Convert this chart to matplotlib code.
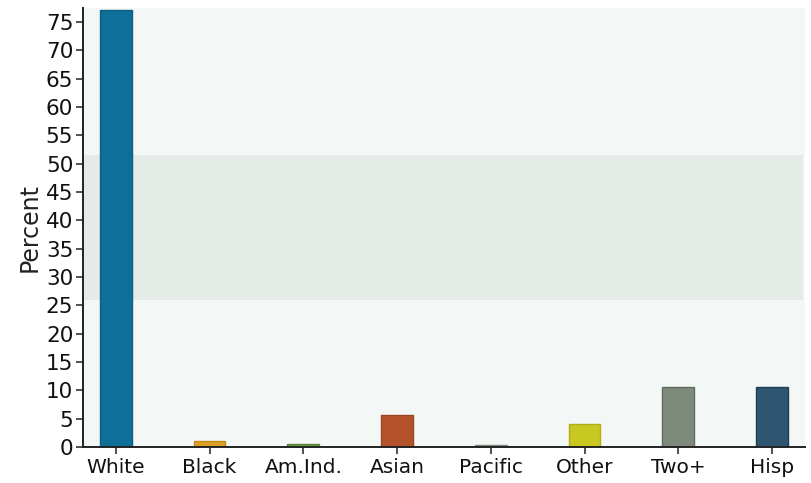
import numpy as np
import matplotlib.pyplot as plt

# race / ethnicity shares, percent
groups = ["White", "Black", "Am.Ind.", "Asian", "Pacific", "Other", "Two+", "Hisp"]
percent = [77.2, 1.0, 0.6, 5.7, 0.4, 4.0, 10.6, 10.6]
bar_colors = ["#0e6f98", "#dca024", "#6f9a44", "#b4532b",
              "#8fa08a", "#c9c820", "#7e8b7c", "#2e5572"]
edge_colors = ["#0b5f84", "#c08a1c", "#5a823a", "#9a4422",
               "#7a8a76", "#b0ae18", "#5f6b5e", "#1f3d55"]
band = (26.0, 51.6)  # shaded reference range

fig = plt.figure(figsize=(8.12, 4.83), dpi=100)
ax = fig.add_axes([0.1022, 0.0745, 0.889, 0.909])
ax.set_facecolor("#f3f8f6")

x = np.arange(len(groups))
ax.axhspan(band[0], band[1], xmin=0, xmax=0.997, color="#e5ebe7", zorder=0, lw=0)
ax.bar(x, percent, width=0.34, color=bar_colors, edgecolor=edge_colors,
       linewidth=1.0, zorder=2)

ax.set_xlim(-0.35, 7.35)
ax.set_ylim(0, 77.5)
ax.set_yticks(np.arange(0, 76, 5))
ax.set_xticks(x)
ax.set_xticklabels(groups)

for s in ["top", "right"]:
    ax.spines[s].set_visible(False)
for s in ["left", "bottom"]:
    ax.spines[s].set_linewidth(1.4)
    ax.spines[s].set_color("#222222")

ax.tick_params(axis="both", length=5, width=1.2,
               color="#333333", labelcolor="#111111")
ax.tick_params(axis="y", labelsize=15.5, pad=2)
ax.tick_params(axis="x", labelsize=14.5, pad=3)
ax.set_ylabel("Percent", fontsize=17, color="#222222", labelpad=3)

fig.savefig("out.png", dpi=100)
